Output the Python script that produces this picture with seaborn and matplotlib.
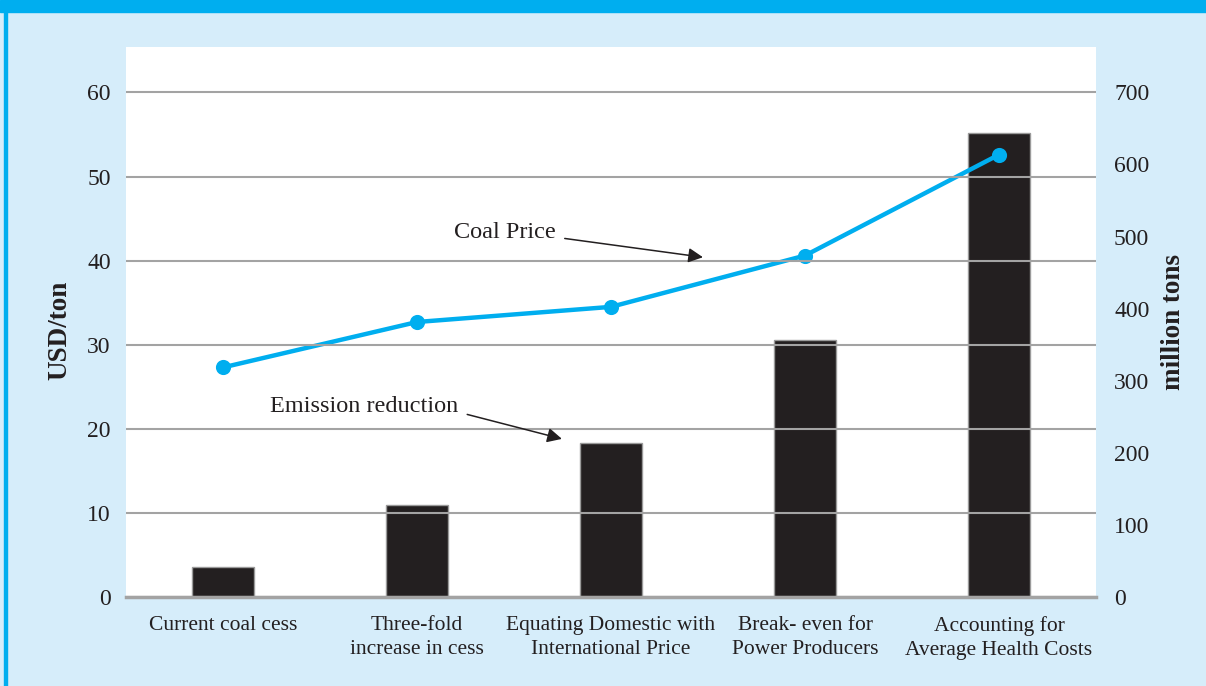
import matplotlib
matplotlib.use("Agg")
import matplotlib.pyplot as plt
import seaborn as sns

# data
categories = ["Current coal cess",
              "Three-fold\nincrease in cess",
              "Equating Domestic with\nInternational Price",
              "Break- even for\nPower Producers",
              "Accounting for\nAverage Health Costs"]
emission_reduction = [42, 128, 214, 356, 644]   # million tons (right axis)
coal_price = [27.3, 32.7, 34.5, 40.6, 52.6]      # USD/ton (left axis)
left_ticks = [0, 10, 20, 30, 40, 50, 60]
right_ticks = [0, 100, 200, 300, 400, 500, 600, 700]

sns.set_theme(style="white")
plt.rcParams['font.family'] = ['Liberation Serif', 'DejaVu Serif']

bg = '#D6EDFA'
blue = '#00AEEF'
grid_col = '#A3A3A3'
ink = '#231F20'

fig = plt.figure(figsize=(12.06, 6.86), dpi=100, facecolor=bg)

# top banner and left border
fig.patches.append(plt.Rectangle((0, 1 - 12/686), 1, 12/686, transform=fig.transFigure,
                                 color=blue, zorder=0))
fig.patches.append(plt.Rectangle((4/1206, 0), 3/1206, 1, transform=fig.transFigure,
                                 color=blue, zorder=0))

ax1 = fig.add_axes([126/1206, 89/686, 970/1206, 550/686])
ax2 = ax1.twinx()

# bars: emission reduction on the right axis
sns.barplot(x=categories, y=emission_reduction, ax=ax2, color=ink,
            width=0.32, edgecolor='#9a9a9a', linewidth=1, saturation=1)

# line: coal price on the left axis
sns.pointplot(x=categories, y=coal_price, ax=ax1, color=blue,
              markers='o', markersize=8.5, linewidth=3.2)

ax1.set_zorder(ax2.get_zorder() + 1)
ax1.patch.set_visible(False)
ax2.patch.set_visible(True)
ax2.patch.set_facecolor('white')

ax1.set_xlim(-0.5, 4.5)
ax1.set_ylim(0, 65.4)
ax2.set_ylim(0, 763)
ax1.set_yticks(left_ticks)
ax2.set_yticks(right_ticks)

ax1.yaxis.grid(True, color=grid_col, linewidth=1.5)
ax1.set_axisbelow(False)
ax1.xaxis.grid(False)

for ax in (ax1, ax2):
    for s in ax.spines.values():
        s.set_visible(False)
ax1.spines['bottom'].set_visible(True)
ax1.spines['bottom'].set_color(grid_col)
ax1.spines['bottom'].set_linewidth(2.5)

ax1.tick_params(axis='y', length=0, pad=11, labelsize=17, labelcolor=ink)
ax2.tick_params(axis='y', length=0, pad=13, labelsize=17, labelcolor=ink)
ax1.tick_params(axis='x', length=0, pad=14, labelsize=15.5, labelcolor=ink)
for lab in ax1.get_xticklabels():
    lab.set_linespacing(1.35)
    lab.set_verticalalignment('top')

ax1.set_xlabel('')
ax2.set_xlabel('')
ax1.set_ylabel('USD/ton', fontsize=19.5, fontweight='bold', color=ink)
ax1.yaxis.set_label_coords(-0.055, 0.485)
ax2.set_ylabel('million tons', fontsize=19.5, fontweight='bold', color=ink,
               rotation=90, labelpad=8)

# annotations
arrow = dict(arrowstyle='-|>', color=ink, lw=1.1, mutation_scale=22,
             shrinkA=4, shrinkB=0)
ax1.annotate('Coal Price', xy=(2.474, 40.4), xytext=(1.454, 43.4),
             ha='center', va='center', fontsize=17.5, color=ink,
             arrowprops=dict(arrow, relpos=(1, 0.25)))
ax1.annotate('Emission reduction', xy=(1.747, 18.8), xytext=(0.729, 22.6),
             ha='center', va='center', fontsize=17.5, color=ink,
             arrowprops=dict(arrow, relpos=(1, 0.25)))

fig.savefig('out.png', dpi=100, facecolor=bg)
